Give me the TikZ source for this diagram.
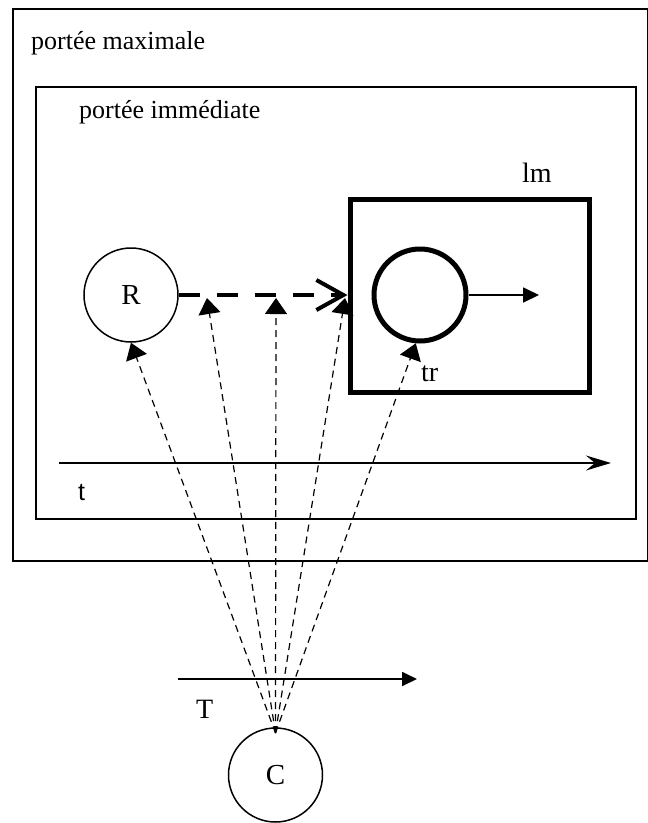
\documentclass[tikz,border=0pt]{standalone}
\usepackage{fontspec}
\setmainfont{Liberation Serif}
\newfontfamily\sansf{Liberation Sans}
\usetikzlibrary{arrows.meta}
\begin{document}
\begin{tikzpicture}[x=1pt,y=-1pt,
  framebox/.style={draw,line width=1.8pt,rectangle,anchor=north west,inner sep=0pt},
  circ/.style={draw,circle,line width=1.5pt,minimum size=94pt,inner sep=0pt,font=\fontsize{29}{29}\selectfont},
  lbl/.style={inner sep=0pt,font=\fontsize{26}{26}\selectfont},
  axis/.style={line width=1.8pt},
  ray/.style={line width=1.2pt,dash pattern=on 7pt off 5pt,-{Triangle[length=16pt,width=22pt]}},
]
\useasboundingbox (0,0) rectangle (648,823);
% boxes
\node[framebox,minimum width=635pt,minimum height=552pt] (outer) at (12,8) {};
\node[framebox,minimum width=600pt,minimum height=432pt] (inner) at (35,86) {};
\node[framebox,line width=5pt,minimum width=239.5pt,minimum height=193pt] (lmbox) at (347.5,197) {};
% labels
\node[lbl,anchor=base west] (lmax) at (31,49) {portée maximale};
\node[lbl,anchor=base west] (limm) at (79,118) {portée immédiate};
\node[lbl,anchor=base west,font=\fontsize{28}{28}\selectfont] (llm) at (522,182) {lm};
\node[lbl,anchor=base west,font=\fontsize{28}{28}\selectfont] (ltr) at (421,381) {tr};
\node[lbl,anchor=base west,font=\sansf\fontsize{25}{25}\selectfont] (lt) at (78,500) {t};
\node[lbl,anchor=base west,font=\fontsize{28}{28}\selectfont] (lT) at (196,718) {T};
% circles
\node[circ] (R) at (131,295) {R};
\node[circ,line width=5pt,minimum size=92pt] (cm) at (420,295) {};
\node[circ] (C) at (275.5,775) {C};
% coordinates
\coordinate (src) at (275.5,733);
\coordinate (p1) at (207,298);
\coordinate (p2) at (276,298);
\coordinate (p3) at (345,298);
\coordinate (ta) at (59,463);
\coordinate (tb) at (611,463);
\coordinate (Ta) at (178,679);
\coordinate (Tb) at (417,679);
\coordinate (ce) at (539,295);
% axes
\draw[axis,-{Stealth[length=25pt,width=15pt,inset=9pt]}] (ta) -- (tb);
\draw[axis,-{Triangle[length=15pt,width=14pt]}] (Ta) -- (Tb);
\draw[line width=1.8pt,-{Triangle[length=16pt,width=15pt]}] (cm.east) -- (ce);
% thick dashed
\draw[line width=4pt,dash pattern=on 21pt off 17pt,-{Straight Barb[length=27pt,width=30pt,line width=4pt]}] (R.east) -- (lmbox.west |- R.east);
% rays
\draw[ray] (src) -- (R.south);
\draw[ray] (src) -- (p1);
\draw[ray] (src) -- (p2);
\draw[ray] (src) -- (p3);
\draw[ray] (src) -- (cm.-95);
\end{tikzpicture}
\end{document}
